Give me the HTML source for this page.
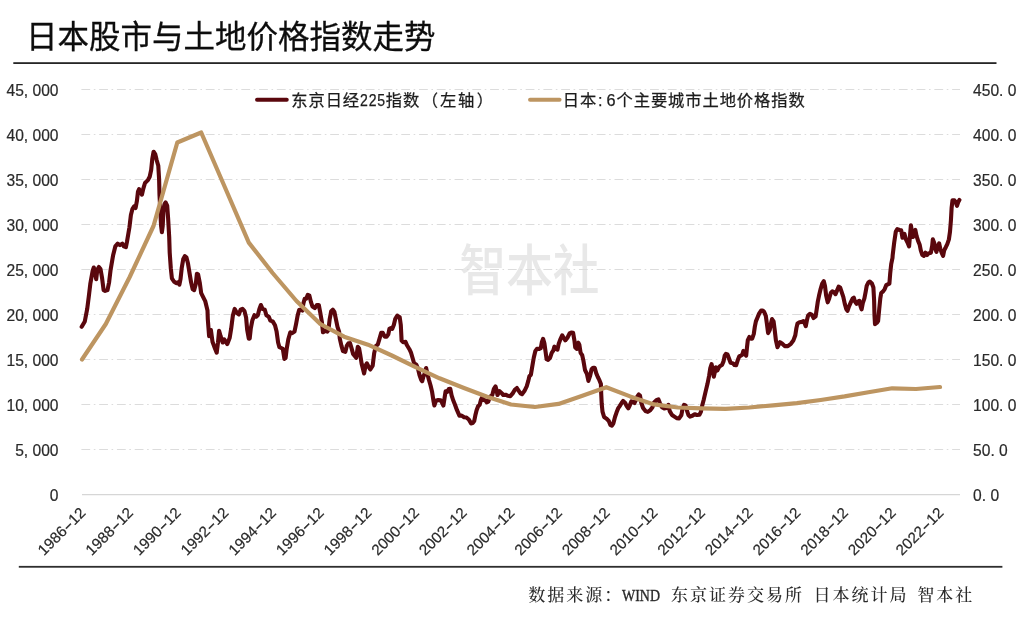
<!DOCTYPE html>
<html lang="zh-CN">
<head>
<meta charset="utf-8">
<title>日本股市与土地价格指数走势</title>
<style>
html,body{margin:0;padding:0;background:#fff;}
body{width:1024px;height:623px;overflow:hidden;}
svg{display:block;filter:blur(0.45px);}
text{font-family:"Liberation Sans", "Noto Sans CJK SC", sans-serif;fill:#2b2b2b;white-space:pre;}
.title{font-size:31.5px;fill:#0d0d0d;stroke:#0d0d0d;stroke-width:0.3px;}
.ax{font-size:15.6px;fill:#2a2a2a;stroke:#2a2a2a;stroke-width:0.2px;}
.xl{font-size:15.2px;}
.lg{font-size:16.3px;letter-spacing:0.9px;fill:#1c1c1c;stroke:#1c1c1c;stroke-width:0.25px;}
.src{font-family:"Liberation Serif", "Noto Serif CJK SC", serif;font-size:17px;font-weight:500;letter-spacing:1.97px;fill:#2a2a2a;}
.src .mono{font-family:"Liberation Serif", "Noto Serif CJK SC", serif;font-size:17px;letter-spacing:0;font-weight:400;stroke:#2a2a2a;stroke-width:0.35px;}
.wm{font-size:54.5px;font-weight:500;fill:#e8e8e8;}
.grid line{stroke:#dcdcdc;stroke-width:1;stroke-dasharray:8.8 3.6 1.6 3.77;}
</style>
</head>
<body>
<svg width="1024" height="623" viewBox="0 0 1024 623">
<rect width="1024" height="623" fill="#ffffff"/>
<text class="title" x="25.9" y="47.9">日本股市与土地价格指数走势</text>
<rect x="13.3" y="62.2" width="983.2" height="1.8" fill="#262626"/>
<rect x="18.8" y="565.9" width="983.6" height="1.8" fill="#2e2e2e"/>
<text class="wm" transform="translate(459.6,290.3) scale(0.855,1)">智本社</text>
<g class="grid">
<line x1="81.4" y1="449.5" x2="960" y2="449.5"/>
<line x1="81.4" y1="404.5" x2="960" y2="404.5"/>
<line x1="81.4" y1="359.5" x2="960" y2="359.5"/>
<line x1="81.4" y1="314.5" x2="960" y2="314.5"/>
<line x1="81.4" y1="269.5" x2="960" y2="269.5"/>
<line x1="81.4" y1="224.5" x2="960" y2="224.5"/>
<line x1="81.4" y1="179.5" x2="960" y2="179.5"/>
<line x1="81.4" y1="134.5" x2="960" y2="134.5"/>
<line x1="81.4" y1="89.5" x2="960" y2="89.5"/>
</g>
<line x1="82" y1="494.7" x2="960" y2="494.7" stroke="#d6d6d6" stroke-width="1.3"/>
<text class="ax" x="58.5" y="501" text-anchor="end">0</text>
<text class="ax" x="973.1" y="501">0. 0</text>
<text class="ax" x="58.5" y="456" text-anchor="end">5, 000</text>
<text class="ax" x="973.1" y="456">50. 0</text>
<text class="ax" x="58.5" y="411" text-anchor="end">10, 000</text>
<text class="ax" x="973.1" y="411">100. 0</text>
<text class="ax" x="58.5" y="366" text-anchor="end">15, 000</text>
<text class="ax" x="973.1" y="366">150. 0</text>
<text class="ax" x="58.5" y="321" text-anchor="end">20, 000</text>
<text class="ax" x="973.1" y="321">200. 0</text>
<text class="ax" x="58.5" y="276" text-anchor="end">25, 000</text>
<text class="ax" x="973.1" y="276">250. 0</text>
<text class="ax" x="58.5" y="231" text-anchor="end">30, 000</text>
<text class="ax" x="973.1" y="231">300. 0</text>
<text class="ax" x="58.5" y="186" text-anchor="end">35, 000</text>
<text class="ax" x="973.1" y="186">350. 0</text>
<text class="ax" x="58.5" y="141" text-anchor="end">40, 000</text>
<text class="ax" x="973.1" y="141">400. 0</text>
<text class="ax" x="58.5" y="96" text-anchor="end">45, 000</text>
<text class="ax" x="973.1" y="96">450. 0</text>
<text class="ax xl" text-anchor="end" transform="translate(86.4,513.8) rotate(-45)">1986<tspan textLength="9.2" lengthAdjust="spacingAndGlyphs">-</tspan>12</text>
<text class="ax xl" text-anchor="end" transform="translate(134.1,513.8) rotate(-45)">1988<tspan textLength="9.2" lengthAdjust="spacingAndGlyphs">-</tspan>12</text>
<text class="ax xl" text-anchor="end" transform="translate(181.7,513.8) rotate(-45)">1990<tspan textLength="9.2" lengthAdjust="spacingAndGlyphs">-</tspan>12</text>
<text class="ax xl" text-anchor="end" transform="translate(229.4,513.8) rotate(-45)">1992<tspan textLength="9.2" lengthAdjust="spacingAndGlyphs">-</tspan>12</text>
<text class="ax xl" text-anchor="end" transform="translate(277.1,513.8) rotate(-45)">1994<tspan textLength="9.2" lengthAdjust="spacingAndGlyphs">-</tspan>12</text>
<text class="ax xl" text-anchor="end" transform="translate(324.7,513.8) rotate(-45)">1996<tspan textLength="9.2" lengthAdjust="spacingAndGlyphs">-</tspan>12</text>
<text class="ax xl" text-anchor="end" transform="translate(372.4,513.8) rotate(-45)">1998<tspan textLength="9.2" lengthAdjust="spacingAndGlyphs">-</tspan>12</text>
<text class="ax xl" text-anchor="end" transform="translate(420.1,513.8) rotate(-45)">2000<tspan textLength="9.2" lengthAdjust="spacingAndGlyphs">-</tspan>12</text>
<text class="ax xl" text-anchor="end" transform="translate(467.7,513.8) rotate(-45)">2002<tspan textLength="9.2" lengthAdjust="spacingAndGlyphs">-</tspan>12</text>
<text class="ax xl" text-anchor="end" transform="translate(515.4,513.8) rotate(-45)">2004<tspan textLength="9.2" lengthAdjust="spacingAndGlyphs">-</tspan>12</text>
<text class="ax xl" text-anchor="end" transform="translate(563.1,513.8) rotate(-45)">2006<tspan textLength="9.2" lengthAdjust="spacingAndGlyphs">-</tspan>12</text>
<text class="ax xl" text-anchor="end" transform="translate(610.7,513.8) rotate(-45)">2008<tspan textLength="9.2" lengthAdjust="spacingAndGlyphs">-</tspan>12</text>
<text class="ax xl" text-anchor="end" transform="translate(658.4,513.8) rotate(-45)">2010<tspan textLength="9.2" lengthAdjust="spacingAndGlyphs">-</tspan>12</text>
<text class="ax xl" text-anchor="end" transform="translate(706.1,513.8) rotate(-45)">2012<tspan textLength="9.2" lengthAdjust="spacingAndGlyphs">-</tspan>12</text>
<text class="ax xl" text-anchor="end" transform="translate(753.7,513.8) rotate(-45)">2014<tspan textLength="9.2" lengthAdjust="spacingAndGlyphs">-</tspan>12</text>
<text class="ax xl" text-anchor="end" transform="translate(801.4,513.8) rotate(-45)">2016<tspan textLength="9.2" lengthAdjust="spacingAndGlyphs">-</tspan>12</text>
<text class="ax xl" text-anchor="end" transform="translate(849.1,513.8) rotate(-45)">2018<tspan textLength="9.2" lengthAdjust="spacingAndGlyphs">-</tspan>12</text>
<text class="ax xl" text-anchor="end" transform="translate(896.7,513.8) rotate(-45)">2020<tspan textLength="9.2" lengthAdjust="spacingAndGlyphs">-</tspan>12</text>
<text class="ax xl" text-anchor="end" transform="translate(944.4,513.8) rotate(-45)">2022<tspan textLength="9.2" lengthAdjust="spacingAndGlyphs">-</tspan>12</text>
<path d="M81.7,326.8 L84.8,321.4 L87.2,308.9 L88.8,296.4 L90.3,283.9 L92.7,270.6 L93.8,267.5 L95.0,272.2 L96.2,279.2 L97.3,269.8 L98.9,267.0 L100.5,269.0 L102.0,277.6 L103.6,290.1 L105.2,290.9 L107.5,290.1 L109.1,282.3 L110.6,269.8 L113.0,255.8 L115.3,246.4 L117.7,243.6 L120.0,245.1 L122.3,243.6 L123.9,246.4 L125.9,247.2 L127.0,241.7 L129.4,227.5 L130.9,215.0 L132.5,208.8 L134.1,206.4 L135.6,208.0 L136.9,200.9 L138.0,191.6 L139.1,189.2 L140.3,190.8 L141.9,194.7 L143.4,188.4 L145.0,183.0 L146.6,181.4 L148.1,179.8 L149.7,176.7 L151.2,169.7 L152.3,158.8 L153.6,151.7 L155.2,154.1 L156.7,160.3 L158.3,165.8 L159.1,179.1 L159.5,194.7 L160.3,210.3 L161.1,225.9 L161.9,232.2 L162.7,225.9 L163.4,211.9 L164.5,204.1 L165.6,202.5 L167.2,205.6 L168.1,218.1 L169.2,237.0 L169.7,252.6 L170.8,268.2 L171.9,278.4 L173.9,281.5 L176.2,283.1 L177.8,282.3 L179.4,284.7 L180.5,279.2 L181.7,268.2 L183.3,258.9 L184.8,256.1 L186.4,257.3 L188.0,263.6 L189.5,272.9 L191.1,282.3 L192.7,289.3 L194.2,290.1 L195.8,283.9 L196.9,273.7 L198.1,274.5 L199.7,282.3 L201.2,293.2 L202.8,296.4 L205.2,301.1 L207.5,310.4 L207.8,319.1 L209.1,336.2 L210.9,330.0 L212.5,341.7 L214.8,348.0 L216.7,352.7 L218.0,342.5 L219.1,330.8 L220.6,336.2 L222.7,342.5 L224.2,339.4 L225.8,341.7 L227.3,344.1 L229.7,337.8 L231.2,328.4 L232.8,315.9 L234.7,308.9 L236.7,312.8 L238.8,314.4 L240.6,309.7 L242.5,308.9 L244.5,311.2 L246.1,317.5 L247.2,330.0 L248.8,338.6 L249.7,338.6 L250.8,328.4 L252.3,320.6 L254.4,315.2 L256.2,316.7 L257.8,315.2 L259.4,308.9 L260.9,305.0 L262.5,308.9 L264.8,309.7 L266.4,315.2 L268.8,316.7 L270.3,320.6 L272.7,321.4 L275.0,325.3 L276.6,331.6 L278.1,342.5 L279.4,347.2 L281.2,348.0 L282.8,348.8 L284.4,358.9 L285.6,358.1 L286.7,348.8 L288.3,339.4 L290.3,332.3 L292.2,333.1 L294.5,331.6 L296.1,323.8 L297.7,315.2 L299.2,309.7 L300.8,309.7 L302.3,310.5 L303.4,303.4 L304.7,298.8 L306.2,298.8 L307.8,294.8 L309.4,295.6 L310.9,301.9 L312.5,306.6 L314.8,308.1 L316.9,305.0 L318.8,305.0 L320.3,312.8 L321.9,322.2 L323.0,332.3 L325.0,330.8 L327.3,331.6 L328.4,330.0 L329.7,319.1 L331.2,311.2 L332.8,309.7 L334.4,312.0 L335.9,319.1 L337.5,326.9 L339.1,331.6 L339.8,338.6 L341.4,345.6 L343.0,351.1 L345.3,351.9 L346.9,345.6 L348.4,343.3 L350.0,344.1 L350.0,343.0 L351.6,348.4 L353.1,353.9 L356.2,357.8 L357.8,346.9 L359.1,348.4 L360.2,354.7 L361.7,364.1 L364.1,373.4 L365.6,365.6 L366.9,363.3 L368.8,367.2 L370.3,369.5 L372.7,365.6 L374.2,353.1 L375.8,346.1 L377.8,344.5 L379.4,339.1 L381.2,332.8 L382.8,332.8 L384.7,336.7 L386.7,336.7 L388.3,334.4 L389.4,328.9 L390.9,328.1 L392.2,328.9 L393.8,325.0 L395.3,318.8 L397.3,315.6 L399.7,317.2 L400.8,325.0 L401.6,340.6 L403.1,342.2 L405.5,341.9 L407.0,345.3 L409.4,349.2 L410.9,352.3 L412.5,357.8 L414.1,363.3 L416.4,364.8 L418.0,368.8 L419.5,375.0 L421.1,379.7 L422.2,381.2 L423.4,376.6 L424.7,373.4 L426.1,368.0 L427.3,373.4 L428.9,379.7 L430.5,385.2 L432.0,391.4 L433.6,401.6 L434.4,405.5 L435.9,400.8 L438.3,400.0 L440.6,400.3 L442.2,403.1 L443.4,405.5 L444.5,398.4 L445.6,391.4 L447.2,391.9 L448.8,389.1 L450.3,388.8 L451.6,395.3 L453.1,400.0 L455.0,404.7 L457.0,410.2 L459.4,415.6 L461.7,415.6 L464.1,417.2 L466.4,417.5 L468.8,419.5 L471.1,423.4 L472.7,423.1 L474.2,421.1 L475.3,415.6 L476.6,410.2 L478.1,406.2 L479.7,404.7 L480.9,400.0 L482.0,397.7 L483.6,400.0 L485.2,400.3 L486.7,402.3 L488.3,401.6 L489.8,396.9 L490.0,397.3 L492.3,395.0 L493.9,388.8 L495.5,386.4 L496.6,390.3 L497.5,395.0 L499.4,391.1 L501.2,392.7 L503.3,395.0 L505.6,394.7 L508.0,395.8 L510.3,396.2 L512.7,393.4 L515.0,389.5 L516.9,388.0 L518.4,390.3 L520.5,393.4 L522.0,394.2 L524.4,391.1 L526.7,386.4 L528.3,380.9 L529.4,376.2 L530.9,374.7 L532.2,366.9 L533.8,357.5 L535.3,351.2 L536.9,348.9 L539.2,348.9 L540.8,348.1 L541.9,341.9 L543.1,338.8 L544.4,343.4 L545.5,351.2 L546.6,359.1 L548.1,359.8 L550.2,357.5 L551.7,352.8 L553.3,350.5 L554.4,346.6 L555.9,348.9 L557.5,349.7 L558.8,343.4 L560.6,338.8 L562.2,335.3 L563.8,338.0 L565.3,340.3 L567.3,338.0 L569.7,333.3 L571.2,332.5 L573.1,332.8 L574.4,340.3 L575.2,347.3 L576.7,348.9 L578.3,342.7 L579.4,345.0 L580.6,352.8 L582.2,355.2 L583.4,360.6 L585.0,370.0 L586.9,373.9 L588.4,380.9 L590.0,376.2 L591.6,369.2 L593.1,367.7 L594.7,367.7 L596.2,373.1 L597.8,377.0 L599.4,380.2 L600.9,384.1 L601.2,393.4 L601.7,403.8 L602.5,411.6 L604.1,417.0 L606.4,418.6 L608.8,420.9 L610.3,424.8 L611.9,425.6 L613.4,423.3 L615.0,417.0 L616.6,412.3 L618.1,408.4 L619.7,406.1 L621.6,403.0 L623.1,400.9 L625.2,403.0 L626.7,406.1 L628.3,408.4 L629.8,405.3 L631.4,401.4 L633.0,402.2 L634.5,403.0 L635.6,400.6 L637.2,396.7 L638.8,394.4 L639.7,397.5 L640.0,395.5 L641.2,402.5 L643.1,408.0 L645.5,411.1 L647.8,411.9 L650.2,410.3 L652.5,407.2 L654.1,402.5 L656.4,400.2 L658.4,399.4 L660.0,403.3 L661.9,407.2 L664.2,408.4 L666.6,408.0 L668.4,404.8 L669.7,411.1 L672.0,415.0 L674.4,416.6 L676.7,418.1 L679.1,418.4 L681.4,415.0 L682.5,408.8 L684.1,404.8 L685.6,405.6 L686.9,410.3 L688.4,415.0 L690.0,416.6 L692.3,415.8 L694.7,414.2 L697.0,415.0 L699.4,414.7 L700.9,411.9 L702.2,405.6 L703.8,399.4 L705.6,391.6 L707.5,383.8 L709.1,375.9 L710.3,368.1 L711.6,364.2 L712.7,369.7 L713.8,376.7 L715.0,371.2 L715.8,367.3 L717.3,370.5 L718.9,367.3 L720.5,365.8 L722.0,365.0 L723.6,361.1 L724.7,355.6 L725.9,353.8 L727.5,354.4 L729.1,358.8 L730.6,362.7 L733.0,363.4 L734.5,365.0 L736.1,365.3 L737.7,360.3 L739.2,356.4 L740.8,355.6 L742.3,354.8 L743.4,350.9 L745.0,354.1 L746.2,355.6 L747.0,347.2 L747.8,340.2 L749.4,337.0 L750.9,338.6 L752.2,338.6 L753.8,333.9 L754.8,326.9 L755.9,321.4 L757.5,317.5 L759.1,313.6 L761.1,310.5 L762.7,310.5 L764.2,312.0 L765.8,315.9 L766.9,323.8 L768.1,333.1 L769.7,330.0 L770.9,323.8 L772.0,319.1 L773.6,321.4 L774.7,330.0 L775.9,340.2 L777.5,347.2 L779.4,343.3 L780.0,342.2 L782.3,343.8 L784.7,346.1 L787.8,346.1 L790.9,343.8 L793.3,340.6 L795.3,335.2 L796.4,328.1 L797.5,323.4 L799.5,322.2 L801.9,321.9 L803.4,321.1 L804.7,323.4 L805.8,326.2 L806.9,320.3 L808.1,315.6 L810.0,313.8 L812.0,314.8 L813.6,318.0 L815.6,316.4 L816.7,309.4 L817.8,301.6 L819.1,295.3 L820.6,289.1 L822.2,283.6 L823.8,281.2 L825.0,285.9 L826.1,295.3 L827.7,302.3 L829.2,298.4 L830.8,293.0 L832.3,291.4 L833.9,292.2 L835.5,294.1 L837.0,290.6 L838.6,286.7 L840.2,287.5 L841.7,292.2 L843.3,296.9 L844.8,303.9 L846.4,309.4 L847.5,310.9 L849.1,306.2 L851.1,301.6 L852.7,298.4 L853.8,297.7 L855.0,301.6 L856.6,303.9 L858.1,301.6 L859.4,300.8 L860.5,306.2 L861.6,309.4 L862.8,303.1 L864.4,298.4 L865.6,292.2 L866.7,285.9 L868.3,282.5 L869.8,281.6 L871.9,283.6 L873.4,287.5 L874.1,300.0 L874.5,315.6 L875.0,324.2 L876.9,322.7 L878.1,321.1 L879.2,309.4 L880.3,298.4 L881.2,293.0 L883.1,291.4 L884.7,289.1 L886.2,285.2 L887.8,284.4 L889.4,283.6 L890.2,273.4 L891.2,264.1 L892.5,257.8 L892.7,255.0 L894.2,242.5 L895.8,231.6 L897.3,229.2 L899.7,230.0 L901.2,230.3 L902.5,237.8 L904.4,233.9 L905.9,239.4 L907.5,242.5 L909.1,246.4 L910.2,233.1 L910.9,225.3 L911.9,231.6 L913.0,237.0 L914.1,231.6 L915.3,230.0 L916.6,236.2 L918.1,240.9 L919.7,244.8 L920.8,250.3 L922.3,255.0 L923.9,255.8 L925.5,252.7 L927.0,255.0 L928.6,253.4 L930.9,252.7 L932.2,245.6 L932.8,239.4 L934.1,242.5 L935.3,248.8 L936.4,251.9 L938.0,245.6 L939.1,243.3 L940.3,248.8 L941.9,253.4 L943.1,255.8 L944.2,250.3 L945.8,247.2 L947.3,244.1 L948.9,239.4 L950.0,231.6 L950.9,220.6 L951.6,208.1 L952.5,200.3 L954.4,200.3 L955.9,202.7 L957.0,205.8 L958.3,201.9 L959.4,200.0" fill="none" stroke="#5a070d" stroke-width="4.1" stroke-linejoin="round" stroke-linecap="round"/>
<path d="M82.0,359.5 L105.8,324.0 L129.7,277.0 L153.5,226.0 L177.3,142.5 L201.2,132.5 L225.0,187.5 L248.8,242.6 L272.6,273.0 L296.5,301.0 L320.3,324.0 L344.1,336.7 L368.0,344.7 L391.8,355.5 L415.6,367.2 L439.5,378.3 L463.3,387.8 L487.1,396.7 L511.0,404.5 L534.8,407.0 L558.6,403.9 L582.4,395.8 L606.3,387.2 L630.1,396.4 L653.9,404.4 L677.8,407.5 L701.6,408.4 L725.4,408.8 L749.3,407.5 L773.1,405.3 L796.9,403.1 L820.7,400.0 L844.6,396.4 L868.4,392.2 L892.2,388.3 L916.0,389.0 L940.0,387.0" fill="none" stroke="#bd9561" stroke-width="4.2" stroke-linejoin="round" stroke-linecap="round"/>
<line x1="257" y1="99.8" x2="286.8" y2="99.8" stroke="#5a070d" stroke-width="3.9" stroke-linecap="round"/>
<text class="lg" x="291.3" y="106.2">东京日经<tspan textLength="25.8" lengthAdjust="spacingAndGlyphs">225</tspan>指数<tspan dx="1.5">（</tspan><tspan dx="1">左</tspan><tspan dx="0.8">轴</tspan><tspan dx="1.8">）</tspan></text>
<line x1="530" y1="99.8" x2="559.6" y2="99.8" stroke="#bd9561" stroke-width="3.9" stroke-linecap="round"/>
<text class="lg" x="562.8" y="106.2">日本<tspan dx="0.9">:</tspan><tspan dx="3.1">6</tspan>个主要城市土地价格指数</text>
<text class="src" y="601"><tspan x="528.3">数据来源：</tspan><tspan class="mono" x="622" textLength="38" lengthAdjust="spacingAndGlyphs">WIND</tspan><tspan> </tspan><tspan x="671.1">东京证券交易所 </tspan><tspan x="813.5">日本统计局 </tspan><tspan x="917.2">智本社</tspan></text>
</svg>
</body>
</html>
